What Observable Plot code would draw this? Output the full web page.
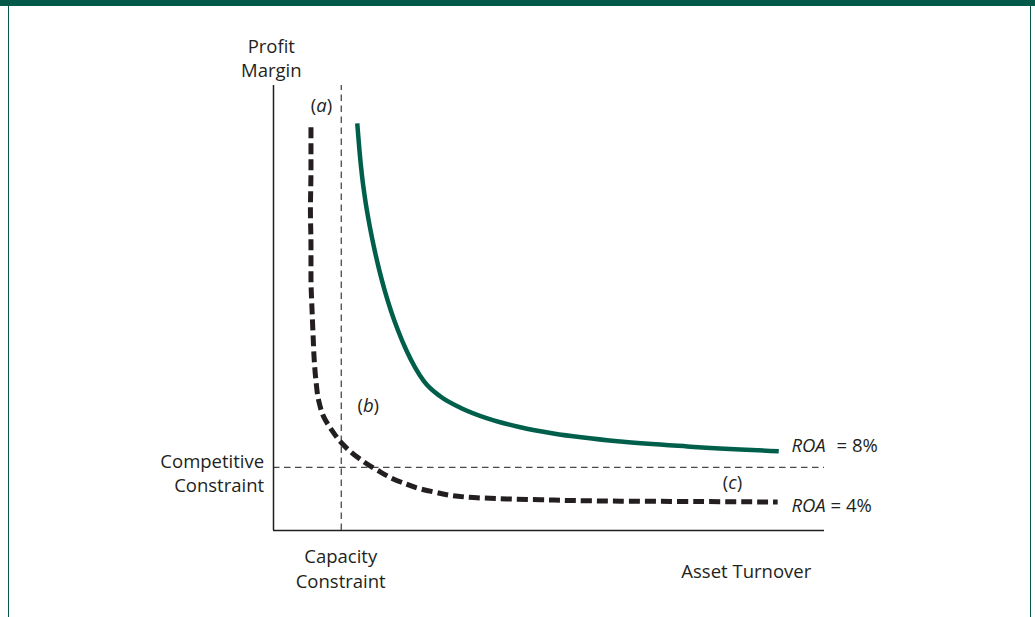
<!DOCTYPE html>
<html>
<head>
<meta charset="utf-8">
<script src="https://cdn.jsdelivr.net/npm/d3@7"></script>
<script src="https://cdn.jsdelivr.net/npm/@observablehq/plot@0.6"></script>
<style>
html, body { margin: 0; padding: 0; background: #ffffff; }
#frame { position: relative; width: 1035px; height: 617px; overflow: hidden; background: #fff; }
#chart { position: absolute; left: 0; top: 0; }
#bar { position: absolute; left: 0; top: 0; width: 1035px; height: 6px; background: #02594a; }
.side { position: absolute; top: 0; width: 1.5px; height: 617px; background: #02594a; }
</style>
</head>
<body>
<div id="frame">
  <div id="chart"></div>
  <div id="bar"></div>
  <div class="side" style="left:7.5px"></div>
  <div class="side" style="left:1029.5px"></div>
</div>
<script>
// ROA = 8% iso-curve (asset turnover, profit margin)
const roa8Turnover = [1.520, 1.560, 1.610, 1.666, 1.727, 1.818, 1.922, 2.019, 2.131, 2.262, 2.411, 2.571, 2.732, 3.03, 3.39, 3.88, 4.48, 5.08, 6.30, 7.51, 9.17];
const roa8Margin   = [9.15, 8.54, 7.93, 7.42, 6.97, 6.40, 5.84, 5.39, 4.94, 4.49, 4.05, 3.66, 3.35, 3.01, 2.76, 2.52, 2.32, 2.18, 2.00, 1.89, 1.78];

// ROA = 4% iso-curve
const roa4Turnover = [0.68, 0.68, 0.67, 0.68, 0.68, 0.70, 0.72, 0.74, 0.77, 0.82, 0.91, 1.06, 1.24, 1.52, 1.89, 2.31, 2.90, 3.51, 4.24, 4.85, 6.30, 7.75, 9.15];
const roa4Margin   = [9.06, 8.09, 7.19, 6.40, 5.69, 4.94, 4.34, 3.82, 3.37, 2.92, 2.56, 2.25, 1.96, 1.65, 1.35, 1.09, 0.87, 0.75, 0.71, 0.69, 0.66, 0.65, 0.64];

// constraints
const capacityConstraint = 1.23;    // asset turnover
const competitiveConstraint = 1.42; // profit margin

const roa8 = roa8Turnover.map((t, i) => ({turnover: t, margin: roa8Margin[i]}));
const roa4 = roa4Turnover.map((t, i) => ({turnover: t, margin: roa4Margin[i]}));

const ink = "#231f20";
const green = "#005f4a";

const txt = (s, x, y, opts = {}) => Plot.text([s], {x: x, y: y, text: d => d, fill: ink, fontSize: 18.5, ...opts});

const plot = Plot.plot({
  width: 1035,
  height: 617,
  margin: 0,
  x: {domain: [0, 10], range: [273, 824], axis: null},
  y: {domain: [0, 10], range: [530, 85], axis: null},
  style: {fontFamily: "'Open Sans', sans-serif", fontSize: "18.5px", color: ink, background: "transparent", overflow: "visible"},
  marks: [
    Plot.ruleY([competitiveConstraint], {x1: 0, x2: 10, stroke: "#4a4a4a", strokeWidth: 1.3, strokeDasharray: "6.5,4.5"}),
    Plot.ruleX([capacityConstraint], {y1: 0, y2: 10, stroke: "#4a4a4a", strokeWidth: 1.3, strokeDasharray: "6.5,4.5"}),
    Plot.ruleX([0], {y1: 0, y2: 10, stroke: ink, strokeWidth: 1.5}),
    Plot.ruleY([0], {x1: 0, x2: 10, stroke: ink, strokeWidth: 1.5}),
    Plot.line(roa8, {x: "turnover", y: "margin", stroke: green, strokeWidth: 4.5, curve: "monotone-x", strokeLinecap: "butt"}),
    Plot.line(roa4, {x: "turnover", y: "margin", stroke: ink, strokeWidth: 5, strokeDasharray: "11,5", curve: "monotone-y", strokeLinecap: "butt"}),
    txt("Profit", -0.04, 10.87, {textAnchor: "middle"}),
    txt("Margin", -0.04, 10.32, {textAnchor: "middle"}),
    txt("Competitive", -0.17, 1.54, {textAnchor: "end"}),
    txt("Constraint", -0.17, 0.99, {textAnchor: "end"}),
    txt("Capacity", 1.22, -0.60, {textAnchor: "middle"}),
    txt("Constraint", 1.22, -1.15, {textAnchor: "middle"}),
    txt("Asset Turnover", 8.58, -0.93, {textAnchor: "middle"}),
    txt("ROA = 8%", 9.40, 1.89, {textAnchor: "start"}),
    txt("ROA = 4%", 9.40, 0.56, {textAnchor: "start"}),
    txt("(a)", 0.87, 9.53, {textAnchor: "middle"}),
    txt("(b)", 1.72, 2.79, {textAnchor: "middle"}),
    txt("(c)", 8.33, 1.07, {textAnchor: "middle"})
  ]
});

// mixed italic / upright styling
d3.select(plot).selectAll("text").each(function() {
  const s = this.textContent;
  const sel = d3.select(this);
  let m;
  if ((m = s.match(/^\((\w)\)$/))) {
    sel.text(null);
    sel.append("tspan").text("(");
    sel.append("tspan").attr("font-style", "italic").text(m[1]);
    sel.append("tspan").text(")");
  } else if ((m = s.match(/^ROA = (\d%)$/))) {
    sel.text(null);
    sel.append("tspan").attr("font-style", "italic").text("ROA");
    const rest = sel.append("tspan").text(" = " + m[1]);
    if (m[1] === "8%") rest.attr("dx", 6);
  }
});

document.getElementById("chart").appendChild(plot);
</script>
</body>
</html>
